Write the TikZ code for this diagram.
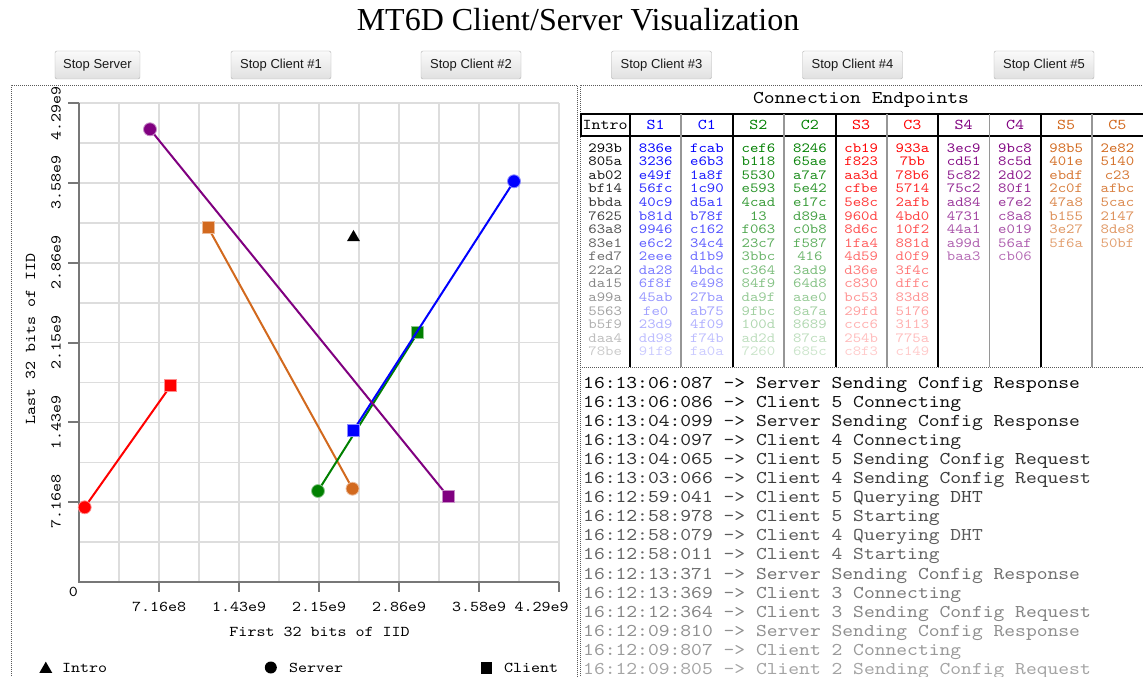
\documentclass[tikz,border=0pt]{standalone}
\usepackage{fontspec}
\setmainfont{Liberation Serif}
\setsansfont{Liberation Sans}
% typewriter face widened to 0.6em per character
\setmonofont{lmmono10-regular.otf}[FakeStretch=1.1429]
\usetikzlibrary{shapes.geometric}

\definecolor{cgreen}{RGB}{0,128,0}
\definecolor{cpurple}{RGB}{128,0,128}
\definecolor{corange}{RGB}{210,105,30}
\definecolor{gridgray}{RGB}{221,221,221}
\definecolor{axisgray}{RGB}{119,119,119}
\definecolor{btnborder}{RGB}{178,178,178}
\definecolor{sepgray}{RGB}{150,150,150}

% one column of endpoint ids: #1 name, #2 centre x, #3 colour, #4 ids
\newcommand\idcolumn[4]{%
  \foreach \v [count=\r from 0] in {#4} {
    \pgfmathsetmacro\fade{1-0.053*\r}
    \node[cell, text=#3, text opacity=\fade] (ep-#1-\r) at (#2,{152.3+13.56*\r}) {\v};
  }}

\begin{document}
\begin{tikzpicture}[x=1pt,y=-1pt,
  btn/.style={draw=btnborder, rounded corners=2pt, top color=white!98!black,
    bottom color=white!88!black, minimum width=#1, minimum height=28pt,
    inner sep=0pt, font=\sffamily\fontsize{13}{13}\selectfont, text=black!90},
  panelborder/.style={draw=black!65, line width=0.9pt, dash pattern=on 1pt off 1pt},
  cell/.style={anchor=base, inner sep=0pt, font=\ttfamily\fontsize{14}{14}\selectfont},
  headcell/.style={anchor=base, inner sep=0pt, font=\ttfamily\fontsize{15}{15}\selectfont},
  groupsep/.style={draw=black, line width=2.2pt},
  pairsep/.style={draw=sepgray, line width=1.6pt},
  gridline/.style={draw=gridgray, line width=1.6pt},
  axisline/.style={draw=axisgray, line width=2pt},
  ticklabel/.style={inner sep=0pt, font=\ttfamily\fontsize{15}{15}\selectfont},
  loglabel/.style={anchor=base west, inner sep=0pt, font=\ttfamily\fontsize{18}{18}\selectfont},
  link/.style={draw=#1, line width=2pt},
  srv/.style={circle, fill=#1, draw=#1!45!white, line width=0.8pt, minimum size=13pt, inner sep=0pt},
  cli/.style={rectangle, fill=#1, draw=#1!45!white, line width=0.8pt, minimum size=12pt, inner sep=0pt},
  intro/.style={regular polygon, regular polygon sides=3, fill=black, minimum size=15pt, inner sep=0pt}
]
\fill[white] (0,0) rectangle (1143,677);
\useasboundingbox (0,0) rectangle (1143,677);

% heading and control buttons
\node[font=\fontsize{32}{32}\selectfont, anchor=base] (title) at (578,31) {MT6D Client/Server Visualization};
\node[btn=85pt]  (stop-server) at (97.5,65)  {Stop Server};
\node[btn=100pt] (stop-c1) at (281,65)    {Stop Client \#1};
\node[btn=100pt] (stop-c2) at (471,65)    {Stop Client \#2};
\node[btn=100pt] (stop-c3) at (661.5,65)  {Stop Client \#3};
\node[btn=100pt] (stop-c4) at (852.5,65)  {Stop Client \#4};
\node[btn=100pt] (stop-c5) at (1044,65)   {Stop Client \#5};

% panel outlines
\draw[panelborder] (11,700) -- (11,85) -- (577.5,85) -- (577.5,700);
\draw[panelborder] (580,700) -- (580,85) -- (1150,85);
\draw[panelborder] (580,367) -- (1150,367);

% ---------------- scatter plot ----------------
\foreach \i in {1,...,12} \draw[gridline] ({79+40*\i},103) -- ({79+40*\i},582);
\foreach \j in {1,...,12} \draw[gridline] (79,{582-39.9*\j}) -- (559,{582-39.9*\j});
\draw[axisline] (79,103) -- (79,582) -- (559,582);
\foreach \i in {1,...,6} {
  \draw[axisline] ({79+80*\i},582) -- ({79+80*\i},592);
  \draw[axisline] (68,{582-79.8*\i}) -- (79,{582-79.8*\i});
}
\node[ticklabel] (zero) at (73.3,591.7) {0};
\foreach \x/\t in {159/7.16e8, 239/1.43e9, 319/2.15e9, 399/2.86e9, 479/3.58e9, 541.7/4.29e9}
  \node[ticklabel] (xl-\t) at (\x,607) {\t};
\foreach \y/\t in {501.7/7.16e8, 422/1.43e9, 342/2.15e9, 262/2.86e9, 182/3.58e9, 113/4.29e9}
  \node[ticklabel, rotate=90] (yl-\t) at (56,\y) {\t};
\node[ticklabel] (xtitle) at (319.5,631.7) {First 32 bits of IID};
\node[ticklabel, rotate=90] (ytitle) at (30.5,339) {Last 32 bits of IID};

% endpoint positions
\coordinate (p-s1) at (514,181.3);   \coordinate (p-c1) at (353.5,430.2);
\coordinate (p-s2) at (318,491);     \coordinate (p-c2) at (417.7,332.8);
\coordinate (p-s3) at (84.7,507.3);  \coordinate (p-c3) at (170.7,385.7);
\coordinate (p-s4) at (150,129.3);   \coordinate (p-c4) at (448,496.4);
\coordinate (p-s5) at (352.5,488.7); \coordinate (p-c5) at (208,227.3);

\draw[link=red] (p-s3) -- (p-c3);
\node[srv=red] (s3) at (p-s3) {};  \node[cli=red] (c3) at (p-c3) {};
\draw[link=corange] (p-c5) -- (p-s5);
\node[srv=corange] (s5) at (p-s5) {};  \node[cli=corange] (c5) at (p-c5) {};
\draw[link=cgreen] (p-s2) -- (p-c2);
\node[srv=cgreen] (s2) at (p-s2) {};  \node[cli=cgreen] (c2) at (p-c2) {};
\draw[link=blue] (p-s1) -- (p-c1);
\node[srv=blue] (s1) at (p-s1) {};  \node[cli=blue] (c1) at (p-c1) {};
\draw[link=cpurple] (p-s4) -- (p-c4);
\node[srv=cpurple] (s4) at (p-s4) {};  \node[cli=cpurple] (c4) at (p-c4) {};
\node[intro] (introducer) at (353.5,237.4) {};

% legend
\node[intro] (lg-intro) at (45.8,669.2) {};
\node[loglabel, font=\ttfamily\fontsize{15}{15}\selectfont] (lg-intro-t) at (62,672.5) {Intro};
\node[circle, fill=black, minimum size=12pt, inner sep=0pt] (lg-server) at (270.8,667.5) {};
\node[loglabel, font=\ttfamily\fontsize{15}{15}\selectfont] (lg-server-t) at (289,672.5) {Server};
\node[rectangle, fill=black, minimum size=11.7pt, inner sep=0pt] (lg-client) at (486.5,668) {};
\node[loglabel, font=\ttfamily\fontsize{15}{15}\selectfont] (lg-client-t) at (504,672.5) {Client};

% ---------------- connection endpoints table ----------------
\node[font=\ttfamily\fontsize{18}{18}\selectfont, inner sep=0pt] (tbl-title) at (861,100) {Connection Endpoints};
\draw[draw=black, line width=2pt] (580,113.5) -- (1150,113.5);
\draw[draw=black, line width=2pt] (580,135.5) -- (1150,135.5);
\draw[draw=black, line width=2pt] (580.5,113.5) -- (580.5,135.5);
\foreach \x in {630.3,732.7,835.7,938,1040.7} \draw[groupsep] (\x,113) -- (\x,367);
\foreach \x in {681,784,886.7,989.3,1091.7} \draw[pairsep] (\x,114) -- (\x,367);

\foreach \n/\x/\c in {Intro/605.2/black, S1/655.7/blue, C1/706.9/blue,
    S2/758.4/cgreen, C2/809.9/cgreen, S3/861.2/red, C3/912.4/red,
    S4/963.7/cpurple, C4/1015/cpurple, S5/1066.2/corange, C5/1117.4/corange}
  \node[headcell, text=\c] (hd-\n) at (\x,129.3) {\n};

\idcolumn{intro}{605.2}{black}{293b,805a,ab02,bf14,bbda,7625,63a8,83e1,fed7,22a2,da15,a99a,5563,b5f9,daa4,78be}
\idcolumn{s1}{655.7}{blue}{836e,3236,e49f,56fc,40c9,b81d,9946,e6c2,2eee,da28,6f8f,45ab,fe0,23d9,dd98,91f8}
\idcolumn{c1}{706.9}{blue}{fcab,e6b3,1a8f,1c90,d5a1,b78f,c162,34c4,d1b9,4bdc,e498,27ba,ab75,4f09,f74b,fa0a}
\idcolumn{s2}{758.4}{cgreen}{cef6,b118,5530,e593,4cad,13,f063,23c7,3bbc,c364,84f9,da9f,9fbc,100d,ad2d,7260}
\idcolumn{c2}{809.9}{cgreen}{8246,65ae,a7a7,5e42,e17c,d89a,c0b8,f587,416,3ad9,64d8,aae0,8a7a,8689,87ca,685c}
\idcolumn{s3}{861.2}{red}{cb19,f823,aa3d,cfbe,5e8c,960d,8d6c,1fa4,4d59,d36e,c830,bc53,29fd,ccc6,254b,c8f3}
\idcolumn{c3}{912.4}{red}{933a,7bb,78b6,5714,2afb,4bd0,10f2,881d,d0f9,3f4c,dffc,83d8,5176,3113,775a,c149}
\idcolumn{s4}{963.7}{cpurple}{3ec9,cd51,5c82,75c2,ad84,4731,44a1,a99d,baa3}
\idcolumn{c4}{1015}{cpurple}{9bc8,8c5d,2d02,80f1,e7e2,c8a8,e019,56af,cb06}
\idcolumn{s5}{1066.2}{corange}{98b5,401e,ebdf,2c0f,47a8,b155,3e27,5f6a}
\idcolumn{c5}{1117.4}{corange}{2e82,5140,c23,afbc,5cac,2147,8de8,50bf}

% ---------------- event log ----------------
\foreach \t [count=\k from 0] in {%
    16:13:06:087 -> Server Sending Config Response,%
    16:13:06:086 -> Client 5 Connecting,%
    16:13:04:099 -> Server Sending Config Response,%
    16:13:04:097 -> Client 4 Connecting,%
    16:13:04:065 -> Client 5 Sending Config Request,%
    16:13:03:066 -> Client 4 Sending Config Request,%
    16:12:59:041 -> Client 5 Querying DHT,%
    16:12:58:978 -> Client 5 Starting,%
    16:12:58:079 -> Client 4 Querying DHT,%
    16:12:58:011 -> Client 4 Starting,%
    16:12:13:371 -> Server Sending Config Response,%
    16:12:13:369 -> Client 3 Connecting,%
    16:12:12:364 -> Client 3 Sending Config Request,%
    16:12:09:810 -> Server Sending Config Response,%
    16:12:09:807 -> Client 2 Connecting,%
    16:12:09:805 -> Client 2 Sending Config Request} {
  \pgfmathsetmacro\fade{0.97-0.041*\k}
  \node[loglabel, text=black, text opacity=\fade] (log-\k) at (583,{388.6+19.04*\k}) {\t};
}
\end{tikzpicture}
\end{document}
